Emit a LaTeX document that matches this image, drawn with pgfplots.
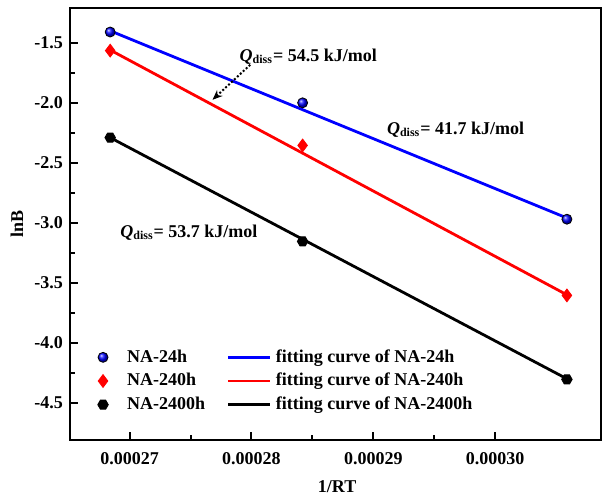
\documentclass[border=0pt]{standalone}
\usepackage{fontspec}
\setmainfont{Liberation Serif}
\usepackage{pgfplots}
\pgfplotsset{compat=1.18}
\usetikzlibrary{arrows.meta}
\pgfdeclareplotmark{hexagon}{%
  \pgfpathmoveto{\pgfpointpolar{0}{1.1\pgfplotmarksize}}%
  \pgfpathlineto{\pgfpointpolar{60}{1.1\pgfplotmarksize}}%
  \pgfpathlineto{\pgfpointpolar{120}{1.1\pgfplotmarksize}}%
  \pgfpathlineto{\pgfpointpolar{180}{1.1\pgfplotmarksize}}%
  \pgfpathlineto{\pgfpointpolar{240}{1.1\pgfplotmarksize}}%
  \pgfpathlineto{\pgfpointpolar{300}{1.1\pgfplotmarksize}}%
  \pgfpathclose
  \pgfusepathqfillstroke}
\pgfplotsset{
  linelegend/.style={legend image code/.code={\draw[##1] (0pt,0pt) -- (21pt,0pt);}},
  marklegend/.style={legend image code/.code={\draw[##1] plot coordinates {(0pt,0pt)};
    \pgfpathmoveto{\pgfpoint{-2.6pt}{-2pt}}\pgfpathlineto{\pgfpoint{10pt}{2pt}}\pgfusepath{discard}}},
}
\newcommand{\Qd}{\textit{Q}\textsubscript{diss}}
\newcommand{\fs}{\fontsize{9}{11}\selectfont\bfseries}
\begin{document}
\begin{tikzpicture}
\path[use as bounding box] (-35pt,-30pt) rectangle (266.5pt,220pt);
\begin{axis}[
  at={(0,0)}, anchor=south west,
  scale only axis, width=265.5pt, height=216pt,
  xmin=0.0002651, xmax=0.0003087, ymin=-4.81, ymax=-1.21,
  xtick={0.00027,0.00028,0.00029,0.00030},
  ytick={-4.5,-4.0,-3.5,-3.0,-2.5,-2.0,-1.5},
  minor x tick num=1, minor y tick num=1,
  scaled x ticks=false,
  xticklabel={\pgfmathprintnumber[fixed,precision=5,zerofill,assume math mode=true]{\tick}},
  yticklabel={\pgfmathprintnumber[fixed,precision=1,zerofill,assume math mode=true]{\tick}},
  tick label style={font=\fs},
  xticklabel style={yshift=-2.5pt},
  xtick pos=bottom, ytick pos=left, tick align=inside,
  major tick length=4pt, minor tick length=2.5pt,
  every tick/.style={black, line width=1pt},
  axis line style={line width=1.2pt},
  xlabel={1/RT}, ylabel={lnB},
  every axis x label/.style={at={(axis description cs:0.503,-0.109)}, anchor=center, font=\fs},
  every axis y label/.style={at={(axis description cs:-0.1,0.5)}, anchor=center, rotate=90, font=\fs},
  legend columns=2,
  legend cell align=left,
  legend style={draw=none, fill=none, font=\fs, at={(axis description cs:0.04,0.229)}, anchor=north west,
    /tikz/every even column/.append style={column sep=9pt}, row sep=0pt},
]
\addplot[only marks, mark=ball, ball color=blue, mark size=2.5pt, marklegend] coordinates {(0.0002684,-1.41) (0.0002842,-2.00) (0.0003059,-2.97)};
\addlegendentry{NA-24h}
\addplot[blue, line width=1.4pt, linelegend] coordinates {(0.0002684,-1.40) (0.0003059,-2.96)};
\addlegendentry{fitting curve of NA-24h}
\addplot[only marks, mark=diamond*, red, mark size=3.2pt, marklegend] coordinates {(0.0002684,-1.565) (0.0002842,-2.355) (0.0003059,-3.605)};
\addlegendentry{NA-240h}
\addplot[red, line width=1.4pt, linelegend] coordinates {(0.0002684,-1.56) (0.0003059,-3.60)};
\addlegendentry{fitting curve of NA-240h}
\addplot[only marks, mark=hexagon, black, mark size=2.4pt, marklegend] coordinates {(0.0002684,-2.29) (0.0002842,-3.155) (0.0003059,-4.305)};
\addlegendentry{NA-2400h}
\addplot[black, line width=1.4pt, linelegend] coordinates {(0.0002684,-2.29) (0.0003059,-4.30)};
\addlegendentry{fitting curve of NA-2400h}
\node[anchor=west, font=\fs, inner sep=0pt] at (axis cs:0.000279,-1.617) {\Qd= 54.5 kJ/mol};
\node[anchor=west, font=\fs, inner sep=0pt] at (axis cs:0.0002911,-2.225) {\Qd= 41.7 kJ/mol};
\node[anchor=west, font=\fs, inner sep=0pt] at (axis cs:0.0002692,-3.083) {\Qd= 53.7 kJ/mol};
\draw[densely dotted, line width=1pt, -{Stealth[length=5pt,width=4pt]}] (axis cs:0.0002799,-1.683) -- (axis cs:0.0002768,-1.975);
\end{axis}
\end{tikzpicture}
\end{document}
